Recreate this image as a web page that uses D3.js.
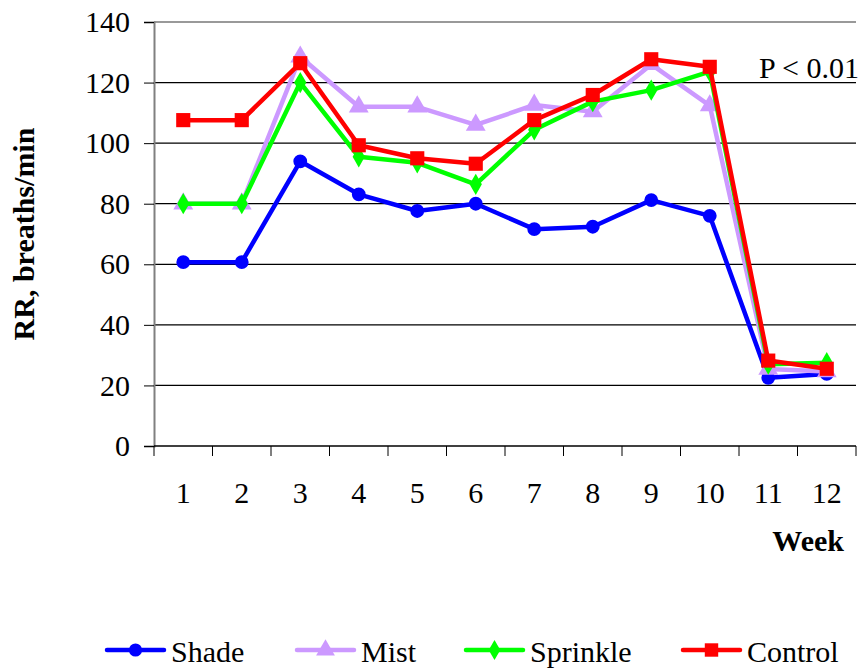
<!DOCTYPE html>
<html>
<head>
<meta charset="utf-8">
<script src="https://cdn.jsdelivr.net/npm/d3@7"></script>
<style>
body { margin: 0; background: #fff; }
svg text { font-family: "Liberation Serif", "Times New Roman", serif; }
</style>
</head>
<body>
<svg id="chart"></svg>
<script>
var weeks = [1, 2, 3, 4, 5, 6, 7, 8, 9, 10, 11, 12];
var shade    = [60.7, 60.7, 94.0, 83.1, 77.6, 80.0, 71.6, 72.4, 81.2, 76.0, 22.5, 23.8];
var mist     = [80.0, 80.0, 128.5, 112.0, 112.0, 106.0, 112.6, 110.4, 126.0, 112.4, 25.4, 24.6];
var sprinkle = [80.0, 80.0, 120.0, 95.5, 93.5, 86.4, 104.4, 113.7, 117.5, 123.6, 27.0, 27.5];
var control  = [107.6, 107.6, 126.4, 99.3, 95.0, 93.2, 107.6, 115.9, 127.7, 125.2, 28.2, 25.5];
var yTicks = [0, 20, 40, 60, 80, 100, 120, 140];

var seriesNames = ["Shade", "Mist", "Sprinkle", "Control"];
var seriesData = [shade, mist, sprinkle, control];
var seriesColors = ["#0000ff", "#cc99ff", "#00ff00", "#ff0000"];
var seriesSymbols = [d3.symbolCircle, d3.symbolTriangle, d3.symbolDiamond, d3.symbolSquare];
var symbolSizes = [150, 170, 130, 200];

var serif = "'Liberation Serif', 'Times New Roman', serif";
var width = 860, height = 670;
var svg = d3.select("#chart")
.attr("width", width)
.attr("height", height);

var margin = {top: 22, left: 154, right: 4, bottom: 224};
var graphWidth = width - margin.left - margin.right;
var graphHeight = height - margin.top - margin.bottom;

var graph = svg.append("g")
.attr("transform", "translate(" + margin.left + "," + margin.top + ")");

var x = d3.scaleBand()
.domain(weeks)
.range([0, graphWidth]);

var y = d3.scaleLinear()
.domain([0, 140])
.range([graphHeight, 0]);

// gridlines
graph.selectAll(".grid")
.data(yTicks.filter(d => d > 0))
.enter()
.append("line")
.attr("x1", 0)
.attr("x2", graphWidth)
.attr("y1", d => y(d))
.attr("y2", d => y(d))
.attr("stroke", d => d == 140 ? "#777" : "#000")
.attr("stroke-width", 1.3);

// y axis
var yAxis = d3.axisLeft(y).tickValues(yTicks).tickSize(10).tickPadding(14);
var yAxisGroup = graph.append("g").call(yAxis).attr("font-family", serif);
yAxisGroup.select(".domain").attr("stroke", "#808080").attr("stroke-width", 2);
yAxisGroup.selectAll(".tick line").attr("stroke", "#000");
yAxisGroup.selectAll("text").style("font-size", "30px").attr("fill", "#000");

// x axis, ticks between the weeks
var xAxisGroup = graph.append("g")
.attr("transform", "translate(0," + graphHeight + ")");
xAxisGroup.append("line")
.attr("x1", 0).attr("x2", graphWidth)
.attr("stroke", "#000").attr("stroke-width", 1.5);
var bounds = weeks.map(d => x(d)).concat([graphWidth]);
xAxisGroup.selectAll(".xtick")
.data(bounds)
.enter()
.append("line")
.attr("x1", d => d).attr("x2", d => d)
.attr("y1", 0).attr("y2", 10)
.attr("stroke", "#000").attr("stroke-width", 1);
xAxisGroup.selectAll(".xlabel")
.data(weeks)
.enter()
.append("text")
.attr("x", d => x(d) + x.bandwidth() / 2)
.attr("y", 57)
.attr("text-anchor", "middle")
.style("font-family", serif)
.style("font-size", "30px")
.text(d => d);

// lines + markers
var line = d3.line()
.x((d, i) => x(weeks[i]) + x.bandwidth() / 2)
.y(d => y(d));

seriesData.forEach(function (vals, s) {
    graph.append("path")
    .datum(vals)
    .attr("d", line)
    .attr("fill", "none")
    .attr("stroke", seriesColors[s])
    .attr("stroke-width", 4.5)
    .attr("stroke-linejoin", "round");

    graph.selectAll(".m" + s)
    .data(vals)
    .enter()
    .append("path")
    .attr("d", d3.symbol().type(seriesSymbols[s]).size(symbolSizes[s]))
    .attr("transform", (d, i) => "translate(" + (x(weeks[i]) + x.bandwidth() / 2) + "," + y(d) + ")")
    .attr("fill", seriesColors[s]);
});

// titles
svg.append("text")
.attr("transform", "translate(34," + (margin.top + graphHeight / 2) + ") rotate(-90)")
.attr("text-anchor", "middle")
.style("font-family", serif)
.style("font-size", "30px")
.style("font-weight", "bold")
.text("RR, breaths/min");

svg.append("text")
.attr("x", 844)
.attr("y", 551)
.attr("text-anchor", "end")
.style("font-family", serif)
.style("font-size", "30px")
.style("font-weight", "bold")
.text("Week");

svg.append("text")
.attr("x", 859)
.attr("y", 78)
.attr("text-anchor", "end")
.style("font-family", serif)
.style("font-size", "30px")
.text("P < 0.01");

// legend
var legendX = [107, 297, 466, 683];
var legend = svg.selectAll(".legend")
.data(seriesNames)
.enter()
.append("g")
.attr("transform", (d, i) => "translate(" + legendX[i] + ",650)");
legend.append("line")
.attr("x1", 0).attr("x2", 57)
.attr("stroke", (d, i) => seriesColors[i])
.attr("stroke-width", 4.5)
.attr("stroke-linecap", "round");
legend.append("path")
.attr("d", (d, i) => d3.symbol().type(seriesSymbols[i]).size(symbolSizes[i] * 0.9)())
.attr("transform", "translate(28.5,0)")
.attr("fill", (d, i) => seriesColors[i]);
legend.append("text")
.attr("x", 64)
.attr("y", 12)
.style("font-family", serif)
.style("font-size", "30px")
.text(d => d);
</script>
</body>
</html>
